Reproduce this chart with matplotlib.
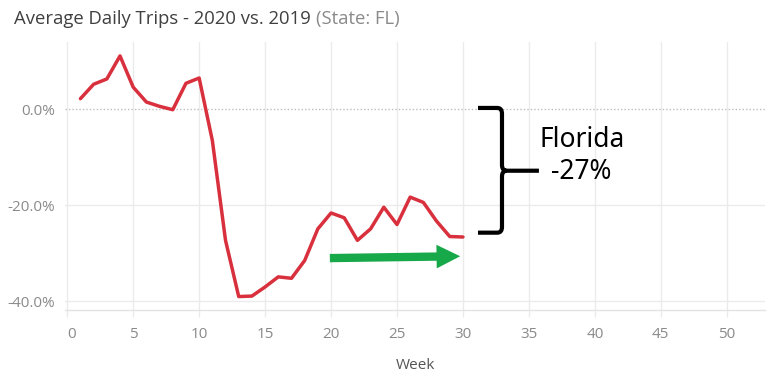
import matplotlib
matplotlib.use("Agg")
import matplotlib.pyplot as plt
from matplotlib.patches import FancyArrowPatch, ArrowStyle
from matplotlib.path import Path
from matplotlib.patches import PathPatch

weeks = list(range(1, 31))
pct_change = [2.2, 5.2, 6.3, 11.1, 4.6, 1.5, 0.6, -0.1, 5.4, 6.5,
              -6.5, -27.3, -39.0, -38.9, -37.0, -34.9, -35.2, -31.5, -24.9, -21.6,
              -22.6, -27.3, -24.9, -20.4, -24.0, -18.3, -19.4, -23.3, -26.5, -26.6]
x_ticks = [0, 5, 10, 15, 20, 25, 30, 35, 40, 45, 50]
y_ticks = [0, -20, -40]
y_tick_labels = ["0.0%", "-20.0%", "-40.0%"]
title_main = "Average Daily Trips - 2020 vs. 2019 "
title_sub = "(State: FL)"
annot_name = "Florida"
annot_value = "-27%"
arrow_start = (19.7, -31.0)
arrow_end = (30.0, -30.6)

W, H = 770, 374
fig = plt.figure(figsize=(W / 100, H / 100), dpi=100)
ax = fig.add_axes([65 / W, 1 - 310 / H, 700 / W, 268 / H])
ax.set_xlim(-0.17, 52.9)
ax.set_ylim(-41.8, 14.0)

grid_c = "#ebebeb"
for xv in x_ticks:
    ax.axvline(xv, color=grid_c, lw=1, zorder=0)
for yv in y_ticks:
    if yv == 0:
        ax.axhline(yv, color="#bdbdbd", lw=1, ls=(0, (1, 1.5)), zorder=0)
    else:
        ax.axhline(yv, color=grid_c, lw=1, zorder=0)

for s in ["top", "right", "left"]:
    ax.spines[s].set_visible(False)
ax.spines["bottom"].set_color("#e3e3e3")
ax.spines["bottom"].set_linewidth(1)

ax.set_xticks(x_ticks)
ax.set_xticklabels([str(v) for v in x_ticks])
ax.set_yticks(y_ticks)
ax.set_yticklabels(y_tick_labels)
ax.tick_params(axis="x", length=5, color=grid_c, width=1, labelsize=11,
               labelcolor="#8a8a8a", pad=7)
ax.tick_params(axis="y", length=0, labelsize=11, labelcolor="#8a8a8a", pad=7)
for lab in ax.get_xticklabels() + ax.get_yticklabels():
    lab.set_fontfamily("Open Sans")
ax.get_xticklabels()[0].set_horizontalalignment("left")

ax.set_xlabel("Week", fontsize=11, color="#555555", family="Open Sans", labelpad=12)

ax.plot(weeks, pct_change, color="#d9303e", lw=2.5, solid_joinstyle="round",
        solid_capstyle="round", zorder=3)

arrow = FancyArrowPatch(arrow_start, arrow_end,
                        arrowstyle=ArrowStyle("Simple", head_length=17, head_width=17,
                                              tail_width=6),
                        mutation_scale=1, color="#17a84a", lw=0, zorder=4)
ax.add_patch(arrow)

# curly brace
xl, xm, xr = 31.14, 32.96, 35.76
yt, ymid, yb = 0.27, -12.8, -25.7
dx = 0.35
dy = 1.2
verts = [
    (xl, yt), (xm - dx, yt), (xm, yt), (xm, yt - dy),
    (xm, ymid + dy), (xm, ymid), (xm + dx, ymid),
    (xr, ymid),
    (xm + dx, ymid), (xm, ymid), (xm, ymid - dy),
    (xm, yb + dy), (xm, yb), (xm - dx, yb),
    (xl, yb),
]
codes = [Path.MOVETO, Path.LINETO, Path.CURVE3, Path.CURVE3,
         Path.LINETO, Path.CURVE3, Path.CURVE3,
         Path.LINETO,
         Path.MOVETO, Path.CURVE3, Path.CURVE3,
         Path.LINETO, Path.CURVE3, Path.CURVE3,
         Path.LINETO]
ax.add_patch(PathPatch(Path(verts, codes), fill=False, color="black", lw=3,
                       capstyle="butt", joinstyle="round", zorder=4))

ax.text(39.0, -6.4, annot_name, fontsize=19, family="Noto Sans", color="black",
        ha="center", va="center", zorder=5)
ax.text(39.0, -13.1, annot_value, fontsize=19, family="Noto Sans", color="black",
        ha="center", va="center", zorder=5)

t1 = fig.text(14 / W, 1 - 19 / H, title_main, fontsize=13.3, family="Open Sans",
              color="#404040", ha="left", va="center")
fig.canvas.draw()
bb = t1.get_window_extent()
fig.text(bb.x1 / W, 1 - 19 / H, title_sub, fontsize=13.3, family="Open Sans",
         color="#8a8a8a", ha="left", va="center")

fig.savefig("out.png", dpi=100)
